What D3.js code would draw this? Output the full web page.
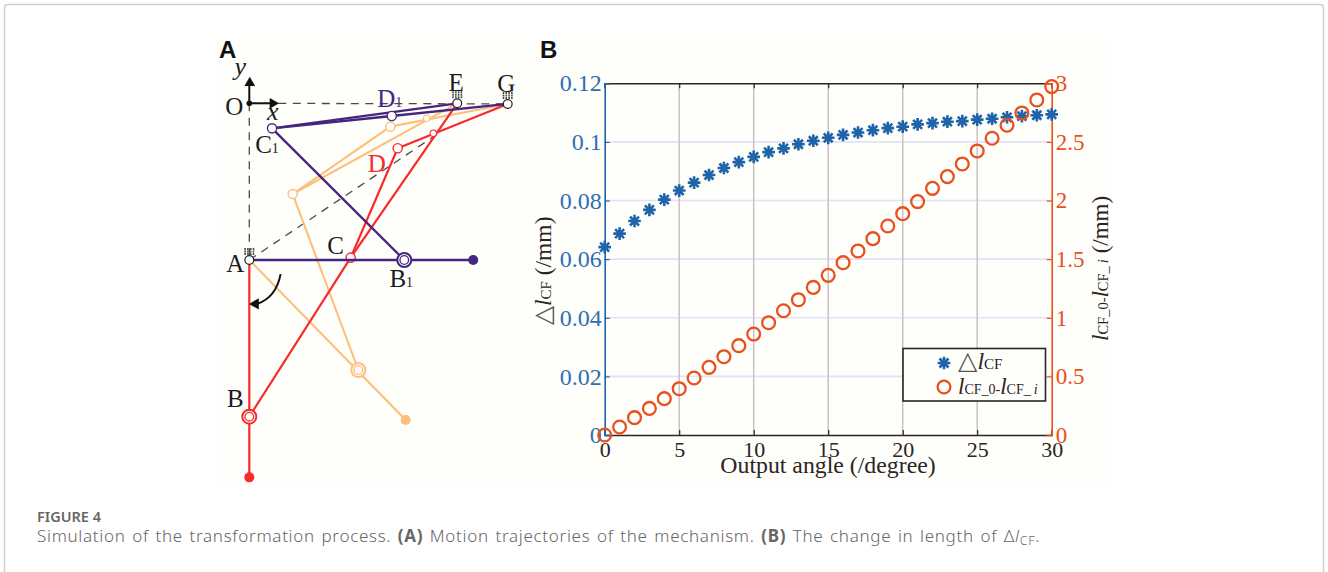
<!DOCTYPE html>
<html><head><meta charset="utf-8">
<script src="https://cdn.jsdelivr.net/npm/d3@7"></script>
<style>html,body{margin:0;padding:0;background:#fff}svg{display:block}text{font-family:"Liberation Serif",serif}</style>
</head><body><svg id="c" width="1328" height="572"></svg>
<script>
// Panel B data
const angles=d3.range(0,31);
const deltaL=[.0641,.0687,.0730,.0768,.0803,.0834,.0861,.0887,.0911,.0931,.0949,.0965,.0978,.0992,.1004,.1014,.1024,.1032,.1040,.1047,.1052,.1060,.1064,.1069,.1071,.1076,.1079,.1084,.1088,.1091,.1094];
const lenDiff=[0,.068,.148,.227,.310,.395,.486,.577,.668,.762,.861,.958,1.06,1.154,1.259,1.362,1.470,1.570,1.675,1.783,1.888,1.991,2.104,2.204,2.312,2.423,2.531,2.642,2.747,2.858,2.972];
const xTicks=[0,5,10,15,20,25,30];
const leftTicks=[0,.02,.04,.06,.08,.1,.12];
const leftLabels=["0","0.02","0.04","0.06","0.08","0.1","0.12"];
const rightTicks=[0,.5,1,1.5,2,2.5,3];
const rightLabels=["0","0.5","1","1.5","2","2.5","3"];
// Panel A data: joint positions in mechanism units (A origin, AO = 100)
const joints={O:[0,100],A:[0,0],E:[132.7,100],G:[164.9,99.6]};
const purple={C:[14.5,84],D:[90.9,91.9],B:[98.9,0],T:[142.9,0]};
const orange={C:[27.7,42.1],D:[90,85.1],F:[113.2,90.4],B:[69.6,-70.2],T:[99.8,-102.1]};
const red={C:[64.7,1.5],D:[94.7,71.3],F:[117.4,80.9],B:[0,-100],T:[0,-138.7]};

const svg=d3.select("#c");
const FG="#2a2522",BL="#1f64a8",OR="#e8501e";
// card
svg.append("rect").attr("x",4.5).attr("y",4.5).attr("width",1319).attr("height",600).attr("rx",3).attr("fill","#fff").attr("stroke","#cfcfcf").attr("stroke-width",1.4);
svg.append("rect").attr("x",218).attr("y",38).attr("width",892).attr("height",447).attr("fill","#fefefb");
svg.append("rect").attr("x",537).attr("y",38).attr("width",26).attr("height",24).attr("fill","#fff");

// ---------- Panel B
const x=d3.scaleLinear().domain([0,30]).range([604.7,1051.7]);
const yL=d3.scaleLinear().domain([0,.12]).range([435,83.3]);
const yR=d3.scaleLinear().domain([0,3]).range([435,83.3]);
const B=svg.append("g");
B.selectAll(".h").data(leftTicks.slice(1,-1)).join("line").attr("x1",x(0)).attr("x2",x(30)).attr("y1",yL).attr("y2",yL).attr("stroke","#e2e2f5").attr("stroke-width",1.6);
B.selectAll(".v").data(xTicks.slice(1,-1)).join("line").attr("y1",yL(0)).attr("y2",yL(.12)).attr("x1",x).attr("x2",x).attr("stroke","#cdc0c4").attr("stroke-width",1.5);
// axes
const axB=B.append("g").attr("transform",`translate(0,${yL(0)})`).call(d3.axisBottom(x).tickValues(xTicks).tickSize(-5).tickPadding(8).tickFormat(d3.format("d")));
const axT=B.append("g").attr("transform",`translate(0,${yL(.12)})`).call(d3.axisTop(x).tickValues(xTicks).tickSize(-5).tickFormat(""));
[axB,axT].forEach(a=>{a.select(".domain").attr("stroke",FG).attr("stroke-width",1.6);a.selectAll("line").attr("stroke",FG).attr("stroke-width",1.2);a.selectAll("text").attr("fill",FG).style("font-size","22px").style("font-family",'"Liberation Serif",serif')});
axB.selectAll("text").attr("y",6).attr("dy","0.71em");
const axL=B.append("g").attr("transform",`translate(${x(0)},0)`).call(d3.axisLeft(yL).tickValues(leftTicks).tickSize(-5).tickPadding(3).tickFormat((d,i)=>leftLabels[i]));
axL.select(".domain").attr("stroke",BL).attr("stroke-width",1.6);axL.selectAll("line").attr("stroke",BL).attr("stroke-width",1.2);
axL.selectAll("text").attr("fill","#2f6fb0").style("font-size","24px").style("font-family",'"Liberation Serif",serif');
const axR=B.append("g").attr("transform",`translate(${x(30)},0)`).call(d3.axisRight(yR).tickValues(rightTicks).tickSize(-5).tickPadding(4).tickFormat((d,i)=>rightLabels[i]));
axR.select(".domain").attr("stroke",OR).attr("stroke-width",1.6);axR.selectAll("line").attr("stroke",OR).attr("stroke-width",1.2);
axR.selectAll("text").attr("fill",OR).style("font-size","23px").style("font-family",'"Liberation Serif",serif');
// marks
const star={draw(ctx,s){const r=Math.sqrt(s);for(let k=0;k<4;k++){const a=Math.PI*k/4;ctx.moveTo(-r*Math.cos(a),-r*Math.sin(a));ctx.lineTo(r*Math.cos(a),r*Math.sin(a));}}};
const starPath=d3.symbol().type(star).size(40)();
B.append("g").selectAll("path").data(angles).join("path").attr("d",starPath)
 .attr("transform",(d,i)=>`translate(${x(d)},${yL(deltaL[i])})`).attr("fill","none").attr("stroke",BL).attr("stroke-width",2.6);
B.append("g").selectAll("circle").data(angles).join("circle").attr("cx",d=>x(d)).attr("cy",(d,i)=>yR(lenDiff[i])).attr("r",6.4).attr("fill","none").attr("stroke",OR).attr("stroke-width",2.3);
// legend
B.append("rect").attr("x",903).attr("y",348.5).attr("width",142.5).attr("height",52.5).attr("fill","#fefefb").attr("stroke",FG).attr("stroke-width",1.6);
B.append("path").attr("d",starPath).attr("transform","translate(944,363)").attr("fill","none").attr("stroke",BL).attr("stroke-width",2.6);
B.append("circle").attr("cx",944).attr("cy",387).attr("r",6.4).attr("fill","none").attr("stroke",OR).attr("stroke-width",2.3);
function rich(g,parts,size,sub){const t=g.append("text").attr("fill",FG).style("font-size",size+"px");
 parts.forEach(p=>{const s=t.append("tspan").text(p[0]);if(p[1]==="i")s.attr("font-style","italic");if(p[1]==="s"){s.style("font-size",sub+"px")}if(p[1]==="si"){s.style("font-size",sub+"px").attr("font-style","italic").attr("dx",3)}if(p[1]==="t"){s.style("font-family","'DejaVu Sans'").style("font-size",(size*1.05)+"px").attr("fill","#555")}});return t;}
rich(B,[["△","t"],["l","i"],["CF","s"]],24,15).attr("transform","translate(958,369)");
rich(B,[["l","i"],["CF_0-","s"],["l","i"],["CF_","s"],["i","si"]],23,14).attr("transform","translate(958,394)");
B.append("text").attr("x",828).attr("y",473).attr("text-anchor","middle").attr("fill",FG).style("font-size","23.8px").text("Output angle (/degree)");
rich(B,[["△","t"],["l","i"],["CF","s"],[" (/mm)",""]],23.5,15).attr("transform","translate(551,325) rotate(-90)");
rich(B,[["l","i"],["CF_0-","s"],["l","i"],["CF_","s"],["i","si"],[" (/mm)",""]],23,14.5).attr("transform","translate(1108,341) rotate(-90)");

// ---------- Panel A
const px=d3.scaleLinear().domain([0,100]).range([249.3,406]);
const py=d3.scaleLinear().domain([0,100]).range([260,103.3]);
const A=svg.append("g");
const line=d3.line().x(d=>px(d[0])).y(d=>py(d[1]));
const dash=(a,b)=>A.append("path").attr("d",line([a,b])).attr("fill","none").attr("stroke","#4a4a4a").attr("stroke-width",1.3).attr("stroke-dasharray","8 6.5");
dash(joints.O,joints.G);dash(joints.O,joints.A);dash(joints.A,[121,81]);
function mech(s,col,w){
 const L=pts=>A.append("path").attr("d",line(pts)).attr("fill","none").attr("stroke",col).attr("stroke-width",w).attr("stroke-linejoin","round");
 L([joints.A,s.T]);L([s.C,s.B]);L([s.C,s.D,joints.G]);L([s.C,joints.E]);
 A.append("circle").attr("cx",px(s.T[0])).attr("cy",py(s.T[1])).attr("r",5).attr("fill",col);
 const J=(p,r,sw)=>A.append("circle").attr("cx",px(p[0])).attr("cy",py(p[1])).attr("r",r).attr("fill","#fff").attr("stroke",col).attr("stroke-width",sw);
 J(s.B,7,2);J(s.B,4.3,1.3);J(s.C,4.6,1.4);J(s.D,4.6,1.4);if(s.F)J(s.F,3.2,1.1);
}
mech(orange,"#fcc07b",2.1);mech(red,"#f92a2a",2.2);mech(purple,"#46257f",2.3);
[joints.A,joints.E,joints.G].forEach(p=>{
 const cx=px(p[0]),cy=py(p[1]);
 [-11,-8.5,-6].forEach(dy=>A.append("line").attr("x1",cx-5).attr("x2",cx+5).attr("y1",cy+dy).attr("y2",cy+dy).attr("stroke","#4d4f45").attr("stroke-width",2).attr("stroke-dasharray","1.6 1.2"));
 A.append("circle").attr("cx",cx).attr("cy",cy).attr("r",4.4).attr("fill","#fff").attr("stroke","#222").attr("stroke-width",1.2);
});
// coordinate arrows
A.append("circle").attr("cx",px(0)).attr("cy",py(100)).attr("r",2.8).attr("fill","#111");
A.append("path").attr("d",line([[0,100],[0,113]])).attr("stroke","#111").attr("stroke-width",2);
A.append("path").attr("d",line([[0,100],[15,100]])).attr("stroke","#111").attr("stroke-width",2);
A.append("path").attr("d",d3.symbol().type(d3.symbolTriangle).size(50)()).attr("transform",`translate(${px(0.3)},${py(113)})`).attr("fill","#111");
A.append("path").attr("d",d3.symbol().type(d3.symbolTriangle).size(50)()).attr("transform",`translate(${px(15)},${py(100)}) rotate(90)`).attr("fill","#111");
// rotation arrow
A.append("path").attr("d",`M${px(20)} ${py(-9)} Q${px(17)} ${py(-24)} ${px(5)} ${py(-28)}`).attr("fill","none").attr("stroke","#111").attr("stroke-width",2);
A.append("path").attr("d",d3.symbol().type(d3.symbolTriangle).size(55)()).attr("transform",`translate(${px(4)},${py(-28)}) rotate(-90)`).attr("fill","#111");
// labels
const lab=(p,t,col,fs,it,dx,dy,sub)=>{const e=A.append("text").attr("x",px(p[0])+dx).attr("y",py(p[1])+dy).attr("fill",col).attr("text-anchor","middle").style("font-size",fs+"px");
 if(it)e.attr("font-style","italic");e.text(t);if(sub)e.append("tspan").style("font-size","14px").text(sub);};
lab(joints.O,"O","#1c1c1c",25,0,-15,12);
lab(joints.O,"y","#1c1c1c",26,1,-9,-28);
lab(joints.O,"x","#1c1c1c",26,1,23.5,17);
lab(joints.E,"E","#1c1c1c",25,0,-1,-12);
lab(joints.G,"G","#1c1c1c",25,0,-1.5,-12);
lab(joints.A,"A","#1c1c1c",25,0,-14,12);
lab(red.B,"B","#1c1c1c",25,0,-14,-10);
lab(red.C,"C","#1c1c1c",25,0,-15,-4);
lab(purple.C,"C","#1c1c1c",25,0,-5,25,"1");
lab(purple.B,"B","#1c1c1c",25,0,-3,27,"1");
lab(purple.D,"D","#46257f",25,0,-2,-9,"1");
lab(red.D,"D","#f92a2a",25,0,-21,24);
// panel letters and caption
const P=(t,xx,yy)=>svg.append("text").attr("x",xx).attr("y",yy).attr("fill","#111").attr("font-weight","700").style("font-family","'Liberation Sans'").style("font-size","24px").text(t);
P("A",219,58);P("B",540,58);
const cap=svg.append("g");
cap.append("text").attr("x",37).attr("y",522).attr("fill","#666").attr("font-weight","600").style("font-family","'Noto Sans'").style("font-size","14.5px").text("FIGURE 4");
const ct=cap.append("text").attr("x",37).attr("y",542).attr("fill","#666").style("font-family","'Noto Sans'").style("font-size","17px").style("letter-spacing","0.7px").style("word-spacing","1.5px").attr("font-weight","300");
[["Simulation of the transformation process. ",0],["(A)",1],[" Motion trajectories of the mechanism. ",0],["(B)",1],[" The change in length of Δ",0],["l",2],["CF",3],[".",0]].forEach(p=>{const s=ct.append("tspan").text(p[0]);if(p[1]==1)s.attr("font-weight","700");if(p[1]==2)s.attr("font-style","italic");if(p[1]==3)s.style("font-size","12.5px").attr("dy",3);if(p[0]===".")s.attr("dy",-3);});
</script></body></html>
